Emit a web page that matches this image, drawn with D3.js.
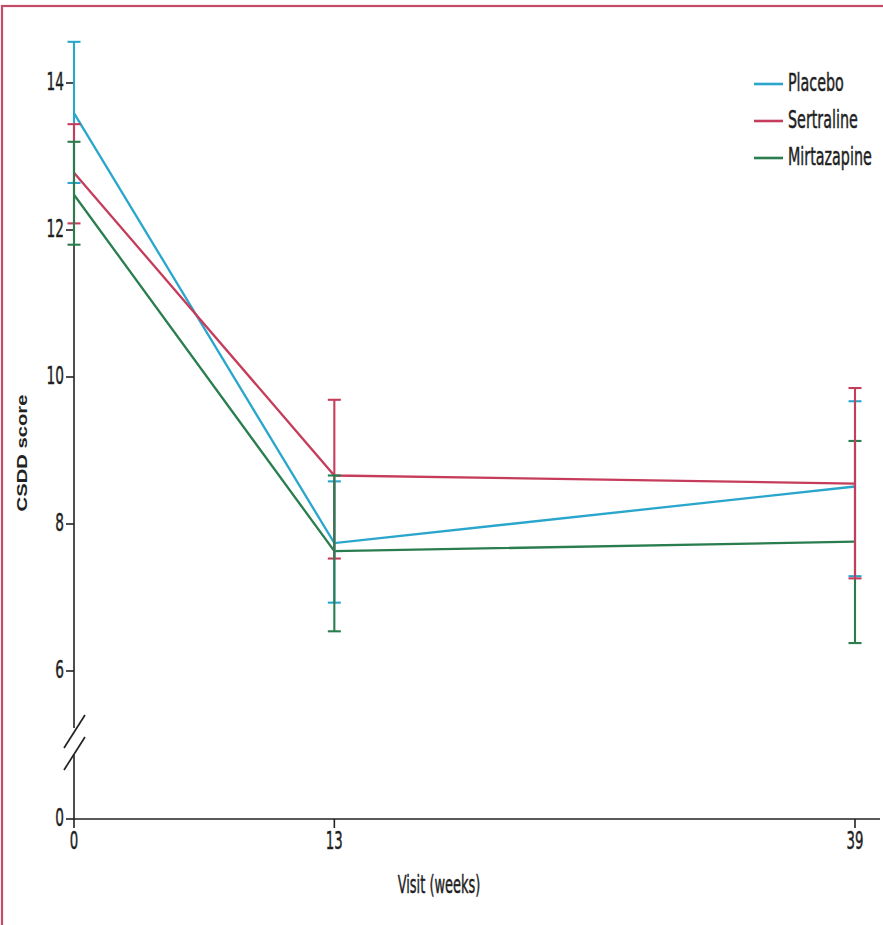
<!DOCTYPE html>
<html lang="en">
<head>
<meta charset="UTF-8">
<title>CSDD score by visit</title>
<script src="https://d3js.org/d3.v7.min.js"></script>
<style>
	body, html { margin: 0; padding: 0; background: #fff; overflow: hidden; }
	svg { display: block; }
	.lbl { font-family: "DejaVu Sans Condensed", "DejaVu Sans", sans-serif; fill: #1e1e1e; stroke: #1e1e1e; stroke-width: 0.35; }
</style>
</head>
<body>
<svg></svg>
<script>
	const width = 883, height = 925;

	// data
	const weeks = [0, 13, 39];
	const groups = ["Placebo", "Sertraline", "Mirtazapine"];
	const colors = ["#2aa6cc", "#c63d5c", "#2a7d4e"];
	const placeboMean = [13.59, 7.74, 8.51];
	const placeboLow  = [12.64, 6.93, 7.29];
	const placeboHigh = [14.56, 8.58, 9.67];
	const sertralineMean = [12.78, 8.66, 8.55];
	const sertralineLow  = [12.09, 7.53, 7.26];
	const sertralineHigh = [13.44, 9.69, 9.85];
	const mirtazapineMean = [12.48, 7.63, 7.76];
	const mirtazapineLow  = [11.80, 6.54, 6.38];
	const mirtazapineHigh = [13.20, 8.66, 9.13];
	const yTicks = [6, 8, 10, 12, 14];

	const series = [
		{name: groups[0], color: colors[0], mean: placeboMean, lo: placeboLow, hi: placeboHigh},
		{name: groups[1], color: colors[1], mean: sertralineMean, lo: sertralineLow, hi: sertralineHigh},
		{name: groups[2], color: colors[2], mean: mirtazapineMean, lo: mirtazapineLow, hi: mirtazapineHigh}
	];
	// which error bars end up on top at each visit (index into series, bottom first)
	const barOrder = [[0, 1, 2], [0, 1, 2], [0, 2, 1]];

	const svg = d3.select("svg").attr("width", width).attr("height", height);

	// frame
	svg.append("rect")
		.attr("x", 2).attr("y", 6)
		.attr("width", width + 10).attr("height", height + 10)
		.attr("fill", "none").attr("stroke", "#c44b66").attr("stroke-width", 2.2);

	const x = d3.scaleLinear().domain([0, 39]).range([74, 855]);
	const y = d3.scaleLinear().domain([6, 14]).range([671, 83]);
	const yZero = 819; // zero baseline below the axis break

	const stretch = 1.35; // text in the figure is tall and narrow

	// y axis (upper part)
	const g = svg.append("g");
	g.append("line").attr("x1", x(0)).attr("x2", x(0))
		.attr("y1", y(14)).attr("y2", 728)
		.attr("stroke", "#222").attr("stroke-width", 1.6);
	g.append("line").attr("x1", x(0)).attr("x2", x(0))
		.attr("y1", 755).attr("y2", yZero)
		.attr("stroke", "#222").attr("stroke-width", 1.6);
	// break marks
	[0, 22].forEach(dy => {
		g.append("line")
			.attr("x1", x(0) - 10).attr("y1", 748 + dy)
			.attr("x2", x(0) + 11).attr("y2", 715 + dy)
			.attr("stroke", "#222").attr("stroke-width", 1.7);
	});

	g.selectAll(".ytick").data(yTicks).enter().append("line")
		.attr("x1", x(0) - 8).attr("x2", x(0))
		.attr("y1", d => y(d)).attr("y2", d => y(d))
		.attr("stroke", "#222").attr("stroke-width", 1.6);
	g.append("line").attr("x1", x(0) - 8).attr("x2", x(0))
		.attr("y1", yZero).attr("y2", yZero)
		.attr("stroke", "#222").attr("stroke-width", 1.6);

	function label(px, py, txt, size, anchor, sx) {
		return svg.append("text").attr("class", "lbl")
			.attr("transform", `translate(${px},${py}) scale(${sx},${stretch})`)
			.attr("text-anchor", anchor)
			.style("font-size", size + "px")
			.text(txt);
	}

	yTicks.forEach(t => label(x(0) - 10, y(t) + 7, t, 19, "end", 0.8));
	label(x(0) - 10, yZero + 7, "0", 19, "end", 0.8);

	// x axis
	g.append("line").attr("x1", x(0)).attr("x2", 880)
		.attr("y1", yZero).attr("y2", yZero)
		.attr("stroke", "#222").attr("stroke-width", 1.6);
	g.selectAll(".xtick").data(weeks).enter().append("line")
		.attr("x1", d => x(d)).attr("x2", d => x(d))
		.attr("y1", yZero).attr("y2", yZero + 9)
		.attr("stroke", "#222").attr("stroke-width", 1.6);
	weeks.forEach(w => label(x(w), yZero + 30, w, 19, "middle", 0.78));

	label(439, 893, "Visit (weeks)", 18, "middle", 0.8);

	svg.append("text")
		.attr("transform", `translate(27,453) rotate(-90) scale(${stretch},1)`)
		.attr("text-anchor", "middle")
		.style("font-family", "'Liberation Sans', Arial, sans-serif")
		.style("font-weight", "bold")
		.style("font-size", "15px")
		.attr("fill", "#222")
		.text("CSDD score");

	// lines
	const line = d3.line().x((d, i) => x(weeks[i])).y(d => y(d));
	series.forEach(s => {
		svg.append("path").datum(s.mean)
			.attr("d", line)
			.attr("fill", "none")
			.attr("stroke", s.color)
			.attr("stroke-width", 2.3);
	});

	// error bars
	weeks.forEach((w, i) => {
		barOrder[i].forEach(k => {
			const s = series[k];
			const eb = svg.append("g").attr("stroke", s.color).attr("stroke-width", 2.1);
			eb.append("line").attr("x1", x(w)).attr("x2", x(w))
				.attr("y1", y(s.hi[i])).attr("y2", y(s.lo[i]));
			[s.hi[i], s.lo[i]].forEach(v => {
				eb.append("line").attr("x1", x(w) - 6.5).attr("x2", x(w) + 6.5)
					.attr("y1", y(v)).attr("y2", y(v));
			});
		});
	});

	// legend
	series.forEach((s, i) => {
		const ly = 84 + i * 37;
		svg.append("line").attr("x1", 754).attr("x2", 783)
			.attr("y1", ly).attr("y2", ly)
			.attr("stroke", s.color).attr("stroke-width", 2.6);
		label(788, ly + 7, s.name, 18.5, "start", 0.86);
	});
</script>
</body>
</html>
